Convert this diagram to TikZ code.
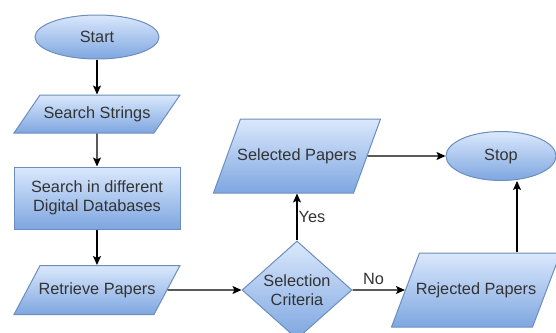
\documentclass[tikz,border=0pt]{standalone}
\usepackage{fontspec}
\setmainfont{Liberation Sans}
\usepackage{tikz}
\usetikzlibrary{arrows.meta}
\usetikzlibrary{shapes.geometric}

\definecolor{boxtop}{HTML}{DAE8FC}
\definecolor{boxbot}{HTML}{7EA6E0}
\definecolor{boxline}{HTML}{6C8EBF}
\definecolor{boxtext}{HTML}{333333}

\tikzset{
  blk/.style={draw=boxline, line width=1pt, top color=boxtop, bottom color=boxbot,
              text=boxtext, font=\fontsize{16.3}{19}\selectfont, align=center, inner sep=0pt},
  term/.style={blk, ellipse},
  proc/.style={blk, rectangle},
  dec/.style={blk, diamond},
  io/.style 2 args={blk, trapezium, trapezium stretches body, text height=12pt, text depth=4pt,
                    inner xsep=-4pt, trapezium left angle=#1, trapezium right angle=#2},
  arr/.style={-{Stealth[length=9pt, width=8pt, inset=2pt]}, line width=1.3pt},
  lbl/.style={text=boxtext, font=\fontsize{16.3}{19}\selectfont, inner sep=1pt}
}

\begin{document}
\begin{tikzpicture}[x=1pt, y=-1pt]
        \useasboundingbox (0,0) rectangle (556,332);

        % left column
        \node[term, minimum width=124, minimum height=44] (start) at (97,37) {Start};
        \node[io={55.6}{124.4}, inner ysep=11, minimum width=166] (strings) at (97,114) {Search Strings};
        \node[proc, minimum width=166, minimum height=62] (dbs) at (97,198) {Search in different\\Digital Databases};
        \node[io={62}{118}, inner ysep=16.5, minimum width=166] (retr) at (97,290) {Retrieve Papers};

        % decision and outcomes
        \node[dec, minimum width=110, minimum height=98] (crit) at (297,290) {Selection\\Criteria};
        \node[io={70}{110}, inner ysep=29, minimum width=167] (sel) at (297,156) {Selected Papers};
        \node[term, minimum width=110, minimum height=49] (stop) at (501,156) {Stop};
        \node[io={69.3}{110.7}, inner ysep=29, minimum width=169] (rej) at (476,290) {Rejected Papers};

        \draw[arr] (start) -- (strings);
        \draw[arr] (strings) -- (dbs);
        \draw[arr] (dbs) -- (retr);
        \draw[arr] (retr) -- (crit);
        \draw[arr] (crit) -- node[lbl, anchor=west, pos=0.5] {Yes} (sel);
        \draw[arr] (crit) -- node[lbl, above=4pt, pos=0.4] {No} (rej);
        \draw[arr] (sel) -- (stop);
        \draw[arr] ([xshift=41]rej.north) -- ([xshift=41]rej.north |- stop.south);

\end{tikzpicture}
\end{document}
